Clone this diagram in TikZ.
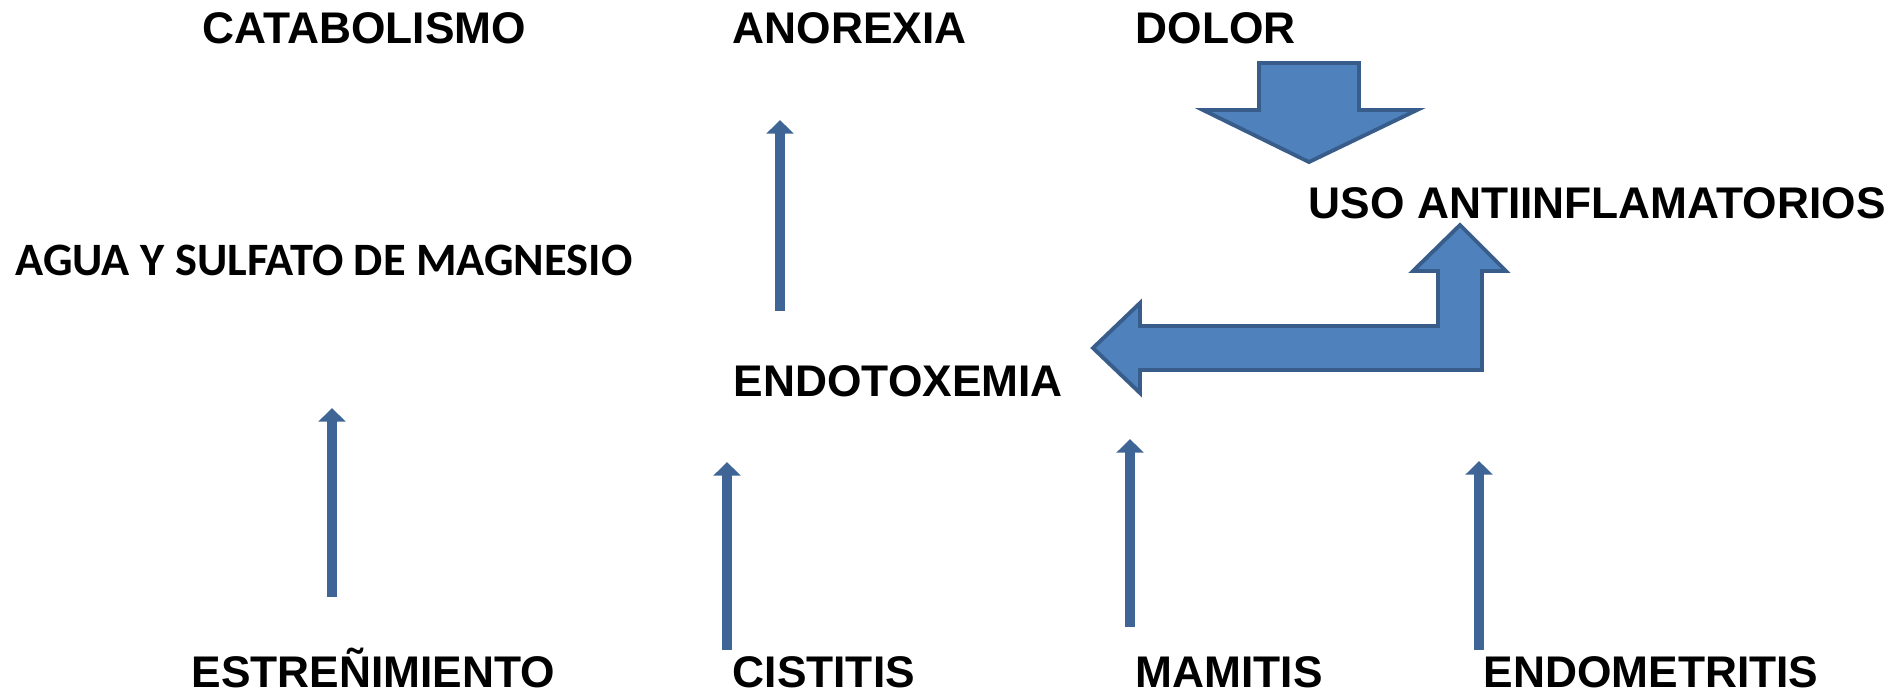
\documentclass[tikz,border=0pt]{standalone}
\usepackage{fontspec}
\setmainfont{Liberation Sans}
\newfontfamily\calfont{Carlito}
\usepackage{tikz}
\usetikzlibrary{arrows.meta}
\definecolor{arrblue}{HTML}{4F81BD}
\definecolor{arrdark}{HTML}{385D8A}
\definecolor{thinblue}{HTML}{3E6596}
\tikzset{
  lbl/.style={anchor=base west,inner sep=0pt,font=\fontsize{12.6}{15}\selectfont\bfseries},
  lblcal/.style={lbl,font=\fontsize{13.2}{15}\selectfont\calfont\bfseries},
  upedge/.style={-{Triangle[length=3.9pt,width=7.6pt]},line width=2.85pt,thinblue},
  blockarr/.style={fill=arrblue,draw=arrdark,line width=1.1pt,line join=miter},
}

\begin{document}
\begin{tikzpicture}[x=0.01cm,y=-0.01cm]
  \useasboundingbox (0,0) rectangle (1904,693);
  \node[lbl] (nCat) at (202,43) {CATABOLISMO};
  \node[lbl] (nAno) at (732,43) {ANOREXIA};
  \node[lbl] (nDol) at (1135,43) {DOLOR};
  \node[lbl] (nUso) at (1308,218) {USO ANTIINFLAMATORIOS};
  \node[lblcal] (nAgua) at (15,275) {AGUA Y SULFATO DE MAGNESIO};
  \node[lbl] (nEndo) at (733,396) {ENDOTOXEMIA};
  \node[lbl] (nEst) at (191,687) {ESTREÑIMIENTO};
  \node[lbl] (nCis) at (732,687) {CISTITIS};
  \node[lbl] (nMam) at (1135,687) {MAMITIS};
  \node[lbl] (nEndom) at (1483,687) {ENDOMETRITIS};
  % arrow ends
  \coordinate (aEst0) at (332,597);  \coordinate (aEst1) at (332,408);
  \coordinate (aAno0) at (780,311);  \coordinate (aAno1) at (780,120);
  \coordinate (aCis0) at (727,650);  \coordinate (aCis1) at (727,462);
  \coordinate (aMam0) at (1130,627); \coordinate (aMam1) at (1130,439);
  \coordinate (aEnd0) at (1479,650); \coordinate (aEnd1) at (1479,461);
  \draw[upedge] (aEst0) -- (aEst1);
  \draw[upedge] (aAno0) -- (aAno1);
  \draw[upedge] (aCis0) -- (aCis1);
  \draw[upedge] (aMam0) -- (aMam1);
  \draw[upedge] (aEnd0) -- (aEnd1);
  % block arrows
  \draw[blockarr] (1259,63) -- (1359,63) -- (1359,110) -- (1417,110)
    -- (1309,162) -- (1203,110) -- (1259,110) -- cycle;
  \draw[blockarr] (1460,225) -- (1506,271) -- (1482,271) -- (1482,370)
    -- (1140,370) -- (1140,393) -- (1093,348) -- (1140,303) -- (1140,326)
    -- (1438,326) -- (1438,271) -- (1413,271) -- cycle;
\end{tikzpicture}
\end{document}
